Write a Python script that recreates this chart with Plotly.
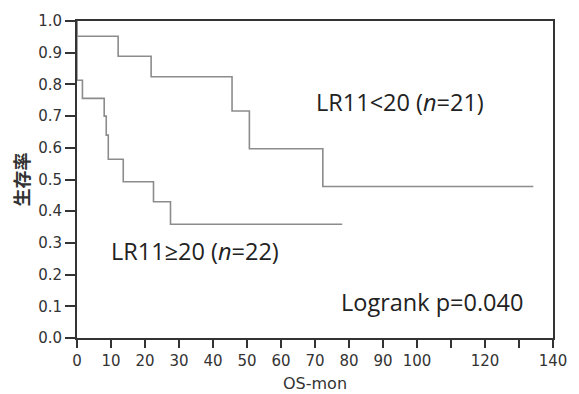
import plotly.graph_objects as go

# Kaplan-Meier step data
low_group_time = [0, 0, 12.1, 21.8, 45.6, 50.7, 72.3, 134.2]
low_group_surv = [1.0, 0.952, 0.889, 0.824, 0.716, 0.597, 0.478, 0.478]

high_group_time = [0, 0, 1.6, 8.0, 8.6, 9.2, 13.6, 22.5, 27.5, 78]
high_group_surv = [1.0, 0.813, 0.756, 0.70, 0.64, 0.564, 0.493, 0.430, 0.359, 0.359]

x_tickvals = [0, 10, 20, 30, 40, 50, 60, 70, 80, 90, 100, 110, 120, 130, 140]
x_ticktext = ["0", "10", "20", "30", "40", "50", "60", "70", "80", "90", "100", "", "120", "", "140"]
y_tickvals = [0.0, 0.1, 0.2, 0.3, 0.4, 0.5, 0.6, 0.7, 0.8, 0.9, 1.0]
y_ticktext = ["0.0", "0.1", "0.2", "0.3", "0.4", "0.5", "0.6", "0.7", "0.8", "0.9", "1.0"]

curve_color = "#8c8c8c"
axis_color = "#333333"

fig = go.Figure()
fig.add_trace(go.Scatter(x=low_group_time, y=low_group_surv, mode="lines",
                         line=dict(shape="hv", color=curve_color, width=1.6),
                         showlegend=False, cliponaxis=False))
fig.add_trace(go.Scatter(x=high_group_time, y=high_group_surv, mode="lines",
                         line=dict(shape="hv", color=curve_color, width=1.6),
                         showlegend=False, cliponaxis=False))

ann_font = dict(family="Open Sans, Lato, sans-serif", size=23.5, color="#222222")
fig.add_annotation(x=95.0, y=0.746, text="LR11<20 (<i>n</i>=21)", showarrow=False,
                   font=ann_font, xanchor="center", yanchor="middle")
fig.add_annotation(x=34.8, y=0.276, text="LR11≥20 (<i>n</i>=22)", showarrow=False,
                   font=ann_font, xanchor="center", yanchor="middle")
fig.add_annotation(x=104.3, y=0.113, text="Logrank p=0.040", showarrow=False,
                   font=ann_font, xanchor="center", yanchor="middle")

# x-axis title placed as paper annotation
fig.add_annotation(xref="paper", yref="paper", x=0.5, y=-0.145, text="OS-mon",
                   showarrow=False, xanchor="center", yanchor="middle",
                   font=dict(family="DejaVu Sans, sans-serif", size=16, color=axis_color))

tick_font = dict(family="DejaVu Sans, sans-serif", size=15, color=axis_color)

fig.update_xaxes(range=[0, 140], tickvals=x_tickvals, ticktext=x_ticktext,
                 showline=True, linecolor=axis_color, linewidth=2, mirror=True,
                 ticks="outside", ticklen=8, tickwidth=1.5, tickcolor=axis_color,
                 showgrid=False, zeroline=False, tickfont=tick_font)
fig.update_yaxes(range=[0, 1.0], tickvals=y_tickvals, ticktext=y_ticktext,
                 showline=True, linecolor=axis_color, linewidth=2, mirror=True,
                 ticks="outside", ticklen=10, tickwidth=1.5, tickcolor=axis_color,
                 showgrid=False, zeroline=False, tickfont=tick_font,
                 title=dict(text="<b>生存率</b>", font=dict(family="Noto Sans CJK JP, sans-serif",
                                                       size=18, color=axis_color), standoff=4))

fig.update_layout(width=579, height=394, margin=dict(l=77, r=18, t=20, b=56),
                  paper_bgcolor="white", plot_bgcolor="white")

fig.write_html("out.html")
